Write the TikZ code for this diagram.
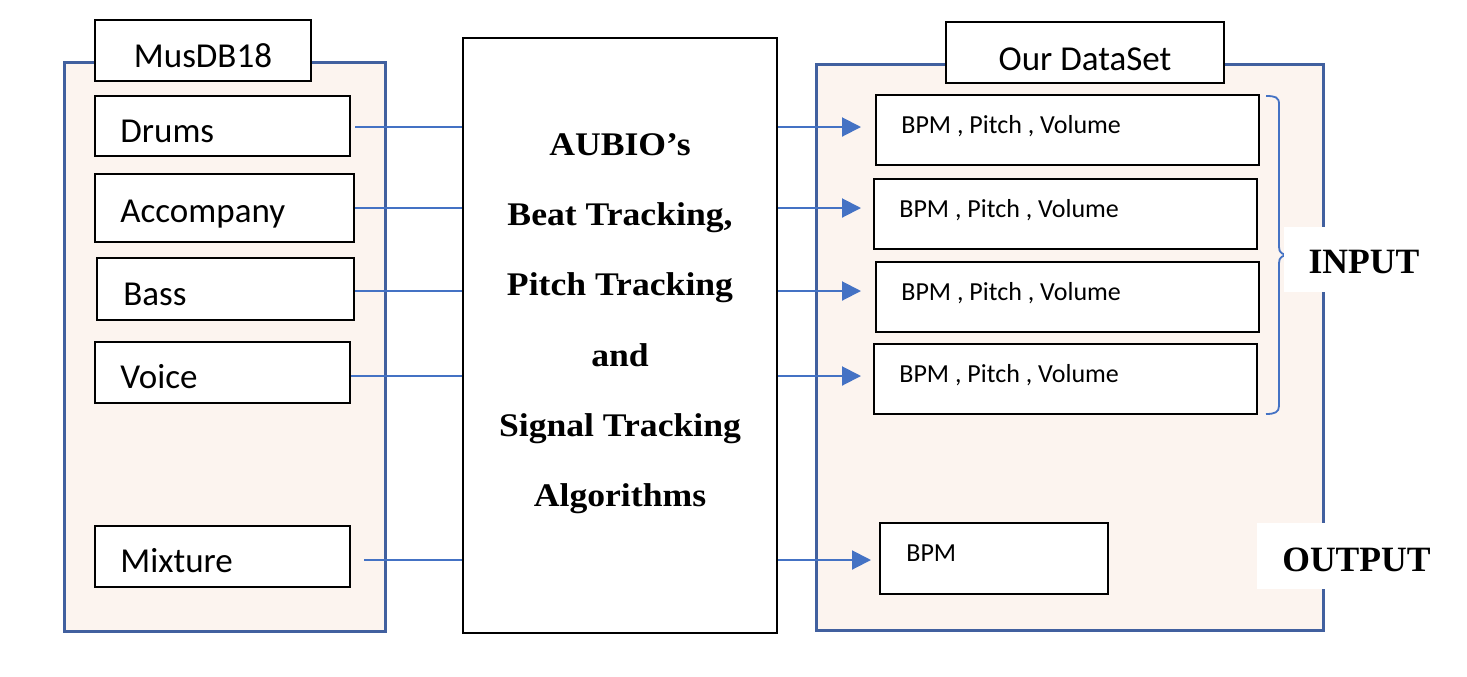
\documentclass[tikz,border=0pt]{standalone}
\usepackage{fontspec}
\setmainfont{Carlito}
\newfontfamily\tnr[FakeStretch=1.08]{Liberation Serif}
\newfontfamily\tnrplain{Liberation Serif}
\usetikzlibrary{arrows.meta}
\definecolor{frameblue}{HTML}{41609F}
\definecolor{linkblue}{HTML}{4472C4}
\definecolor{panel}{HTML}{FCF4EF}
\begin{document}
\begin{tikzpicture}[x=0.5pt,y=-0.5pt,
  container/.style={draw=frameblue, line width=1.5pt, fill=panel, inner sep=0pt},
  blk/.style={draw=black, line width=1pt, fill=white, inner sep=0pt},
  lbl/.style={anchor=base west, inner sep=0pt, font=\fontsize{17.5}{20}\selectfont},
  ttl/.style={anchor=base, inner sep=0pt, font=\fontsize{17.5}{20}\selectfont},
  small/.style={anchor=base west, inner sep=0pt, font=\fontsize{13}{15}\selectfont},
  alg/.style={anchor=base, inner sep=0pt, font=\tnr\bfseries\fontsize{16.5}{18}\selectfont},
  side/.style={anchor=base, inner sep=0pt, font=\tnrplain\bfseries\fontsize{17.8}{20}\selectfont},
  conn/.style={draw=linkblue, line width=1pt},
  arr/.style={conn, -{Triangle[length=9.5pt,width=9.5pt]}},
]
\useasboundingbox (0,0) rectangle (1467,676);

% containers
\node[container, minimum width=160.5pt, minimum height=284.5pt] (outerL) at (224.5,346.5) {};
\node[container, minimum width=253.5pt, minimum height=283pt] (outerR) at (1069.5,347) {};

% titles
\node[blk, minimum width=108pt, minimum height=30.5pt] (titleL) at (203,50.5) {};
\node[ttl] (titleLtxt) at (203,67) {MusDB18};
\node[blk, minimum width=139pt, minimum height=30.5pt] (titleR) at (1085,52.5) {};
\node[ttl] (titleRtxt) at (1085,70) {Our DataSet};

% left items
\node[blk, minimum width=127.5pt, minimum height=30pt] (drums) at (222.5,126) {};
\node[lbl] (drumstxt) at (120,142) {Drums};
\node[blk, minimum width=129.5pt, minimum height=34pt] (accomp) at (224.5,208) {};
\node[lbl] (accomptxt) at (120,222) {Accompany};
\node[blk, minimum width=128.5pt, minimum height=31pt] (bass) at (225.5,289) {};
\node[lbl] (basstxt) at (123,305) {Bass};
\node[blk, minimum width=127.5pt, minimum height=30.5pt] (voice) at (222.5,372.5) {};
\node[lbl] (voicetxt) at (120,388) {Voice};
\node[blk, minimum width=127.5pt, minimum height=30.5pt] (mixture) at (222.5,556.5) {};
\node[lbl] (mixturetxt) at (120,572) {Mixture};

% middle
\node[blk, minimum width=157pt, minimum height=297.5pt] (mid) at (620,335.5) {};
\node[alg] (m1) at (620,155) {AUBIO’s};
\node[alg] (m2) at (620,225) {Beat Tracking,};
\node[alg] (m3) at (620,295) {Pitch Tracking};
\node[alg] (m4) at (620,366) {and};
\node[alg] (m5) at (620,436) {Signal Tracking};
\node[alg] (m6) at (620,506) {Algorithms};

% right items
\node[blk, minimum width=191.5pt, minimum height=35pt] (bpm1) at (1067.5,130) {};
\node[small] (bpm1txt) at (901,133) {BPM , Pitch , Volume};
\node[blk, minimum width=191.5pt, minimum height=35pt] (bpm2) at (1065.5,214) {};
\node[small] (bpm2txt) at (899,217) {BPM , Pitch , Volume};
\node[blk, minimum width=191.5pt, minimum height=35pt] (bpm3) at (1067.5,297) {};
\node[small] (bpm3txt) at (901,300) {BPM , Pitch , Volume};
\node[blk, minimum width=191.5pt, minimum height=35pt] (bpm4) at (1065.5,379) {};
\node[small] (bpm4txt) at (899,382) {BPM , Pitch , Volume};
\node[blk, minimum width=114pt, minimum height=35.5pt] (outbpm) at (994,558.5) {};
\node[small] (outbpmtxt) at (906,561) {BPM};

% connectors left
\coordinate (c1) at (355,127);
\coordinate (c2) at (355,208);
\coordinate (c3) at (355,291);
\coordinate (c4) at (351,376);
\coordinate (c5) at (364,560);
\draw[conn] (c1) -- (c1 -| mid.west);
\draw[conn] (c2) -- (c2 -| mid.west);
\draw[conn] (c3) -- (c3 -| mid.west);
\draw[conn] (c4) -- (c4 -| mid.west);
\draw[conn] (c5) -- (c5 -| mid.west);

% arrows right
\draw[arr, shorten >=7pt] (c1 -| mid.east) -- (c1 -| bpm1.west);
\draw[arr, shorten >=6pt] (c2 -| mid.east) -- (c2 -| bpm2.west);
\draw[arr, shorten >=7pt] (c3 -| mid.east) -- (c3 -| bpm3.west);
\draw[arr, shorten >=6pt] (c4 -| mid.east) -- (c4 -| bpm4.west);
\draw[arr, shorten >=4pt] (c5 -| mid.east) -- (c5 -| outbpm.west);

% brace
\draw[linkblue, line width=0.9pt]
  (1266,96) .. controls (1275,96) and (1279,97) .. (1279,104) -- (1279,247)
  .. controls (1279,253) and (1282,255) .. (1292,255);
\draw[linkblue, line width=0.9pt]
  (1292,255) .. controls (1282,255) and (1279,257) .. (1279,263) -- (1279,406)
  .. controls (1279,412) and (1275,414) .. (1266,414);

% side labels
\fill[white] (1284,227) rectangle (1340,292);
\node[side] (inputlbl) at (1364,273) {INPUT};
\fill[white] (1257,523) rectangle (1340,589);
\node[side] (outputlbl) at (1356.5,571) {OUTPUT};
\end{tikzpicture}
\end{document}
